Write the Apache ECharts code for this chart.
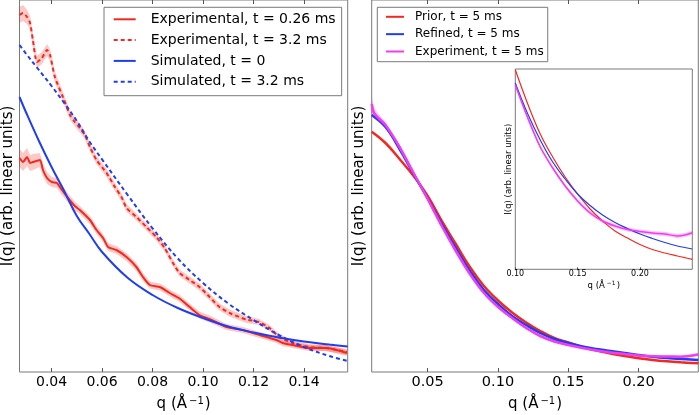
<!DOCTYPE html>
<html><head><meta charset="utf-8">
<script src="https://cdn.jsdelivr.net/npm/echarts@6/dist/echarts.min.js"></script>
<style>html,body{margin:0;padding:0;background:#fff}#c{width:700px;height:415px}</style>
</head><body><div id="c"></div><script>
// ---------- data (y in arbitrary linear units) ----------
const xTicksLeft = [0.04, 0.06, 0.08, 0.10, 0.12, 0.14];
const xTicksRight = [0.05, 0.10, 0.15, 0.20];
const xTicksInset = [0.10, 0.15, 0.20];

const qSimL = [0.0273,0.03,0.035,0.04,0.045,0.05,0.055,0.06,0.07,0.08,0.09,0.10,0.11,0.12,0.13,0.14,0.15,0.1573];
const simT0 = [275,259,231,205,181,156,138,120,94.5,77,64,54,45.5,39.5,34.5,30.5,27.5,25.5];
const sim32 = [327,318,302,286,269,251,230.5,212.6,177.5,143.7,113.6,89,68.5,52,37,25,16,11];

const qExp026 = [0.0273,0.0287,0.0303,0.0315,0.0326,0.0354,0.0366,0.0382,0.0401,0.0421,0.0441,0.0465,0.0492,0.0512,0.0552,0.0578,0.0604,0.0624,0.0657,0.0697,0.0736,0.0762,0.0789,0.0829,0.0868,0.0907,0.0947,0.0986,0.1026,0.1093,0.1157,0.1224,0.1291,0.1315,0.1354,0.1421,0.1488,0.1570];
const exp026 = [214,210,215,209,210,212,202,194,190,189,182,174,166,162,152,142,134,125,122,115,105,95,87,85,79,73.5,65,57,53,45,42,37,32,29,27,24,24,19];
const exp026Err = [9,9,9,8,8,7,6,6,5,5,5,4.5,4.5,4,4,4,4,4,4,4,4,4,3.5,3.5,3.5,3.5,3.5,3.5,3.5,3,3,3,3,3,3,3,3,3];

const qExp32 = [0.0273,0.0287,0.0303,0.0315,0.0326,0.0342,0.0362,0.0382,0.0394,0.0413,0.0445,0.0473,0.0492,0.0512,0.0532,0.0552,0.0578,0.0618,0.0651,0.0677,0.0697,0.0736,0.0776,0.0815,0.0848,0.0881,0.0907,0.0947,0.0986,0.1026,0.1065,0.1105,0.1171,0.1222,0.1263,0.1302,0.1353,0.1420,0.1487,0.1570];
const exp32 = [357,359,355,349,332,310,314,322,317,295,275,257,250,244,237,225,212,199,185,175,164,155,145,135,124,109,99,92,85,75,65,59,52.5,50,44,35,29,25,24,20];
const exp32Err = [8,8,7,7,6,6,6,6,6,5.5,5,4.5,4.5,4.5,4,4,4,4,4,4,4,3.5,3.5,3.5,3.5,3.5,3.5,3.5,3.5,3.5,3.5,3.5,3.5,3,3,3,3,3,3,3];

const qR = [0.0102,0.02,0.03,0.04,0.05,0.06,0.07,0.08,0.09,0.10,0.11,0.12,0.13,0.14,0.15,0.16,0.17,0.18,0.19,0.20,0.21,0.22,0.23,0.2424];
const prior5 = [240.3,229,213,196,176,151,128,105,86,71.5,59.5,49.5,41,34,29.5,25,21.5,18.5,16,13.7,12,10.7,9.7,8.7];
const refined5 = [257,245,223,198,173.5,148,124,101,82,68,56,47,39,33,29,25.5,23,21,19,17,15.3,14,13,12];

const qExpR = [0.0102,0.0115,0.013,0.015,0.02,0.03,0.04,0.05,0.06,0.07,0.08,0.09,0.10,0.11,0.12,0.13,0.14,0.15,0.16,0.17,0.18,0.19,0.20,0.21,0.22,0.23,0.2424];
const expR5 = [268,260,257,254,247,225,199,173,146,121,98,79,65,54,44,36,30.5,27,24,21.5,19.5,18,16.5,15.7,15.5,15.3,17.5];
const expR5Err = [9,6,5,4,3,2,1.5,1.2,1.2,1.2,1.2,1.2,1.2,1.2,1.2,1.2,1.2,1.2,1.2,1.2,1.2,1.2,1.2,1.2,1.2,1.2,1.5];

const qIn = [0.10,0.11,0.12,0.13,0.14,0.15,0.16,0.17,0.18,0.19,0.20,0.21,0.22,0.23,0.236,0.242];
const priorIn = [199.5,165.3,135.3,112.3,92.3,75.3,60.3,48.3,38.3,31.3,24.8,19.8,16.3,13.3,11.6,10];
const refinedIn = [186.3,155.3,129.3,107.3,90.3,75.3,63.8,54.3,46.8,40.8,35.3,30.8,26.8,23.3,21.8,20.3];
const expIn = [184.3,151.3,122.3,101.3,83.3,68.3,56.3,48.3,43.3,39.8,37.8,36.3,35.3,33.3,34.3,36.6];
const expInErr = [2.5,2,2,2,2,2,2,2,2,2,2,2,2,2,2,2];

// ---------- styling ----------
const FONT = 'DejaVu Sans';
const RED = '#f5281e', BLUE = '#1f3ef2', MAG = '#f23cf2';
const EDGE = '#7a7a7a';
const yName = 'I(q) (arb. linear units)';
const xName = 'q (Å{sup|−1})';

function pairs(xs, ys) { return xs.map((x, i) => [x, ys[i]]); }
function band(name, xs, ys, es, xi, yi, color) {
  return {
    name: name, type: 'custom', xAxisIndex: xi, yAxisIndex: yi, silent: true,
    data: xs.map((x, i) => [x, ys[i] - es[i], ys[i] + es[i]]),
    encode: { x: 0, y: [1, 2] },
    renderItem: function (params, api) {
      if (params.dataIndex !== 0) return null;
      const up = [], lo = [];
      for (let i = 0; i < xs.length; i++) {
        up.push(api.coord([xs[i], ys[i] + es[i]]));
        lo.push(api.coord([xs[i], ys[i] - es[i]]));
      }
      return { type: 'polygon', shape: { points: up.concat(lo.reverse()) }, style: { fill: color } };
    }
  };
}
function line(name, xs, ys, xi, yi, color, width, dashed, smooth) {
  return {
    name: name, type: 'line', xAxisIndex: xi, yAxisIndex: yi, data: pairs(xs, ys),
    symbol: 'none', showSymbol: false, smooth: smooth, silent: true,
    lineStyle: { color: color, width: width, type: dashed ? [4, 3] : 'solid' },
    itemStyle: { color: color }
  };
}
function xAxisDef(grid, min, max, ticks, fs, margin, nameFs, nameGap, supFs, supRaise, tickLen) {
  return {
    gridIndex: grid, type: 'value', min: min, max: max, position: 'bottom',
    axisLine: { show: false }, splitLine: { show: false },
    axisTick: { show: true, inside: true, length: tickLen, customValues: ticks, lineStyle: { color: '#555', width: 1 } },
    axisLabel: { show: true, customValues: ticks, formatter: v => v.toFixed(2), color: '#000', fontFamily: FONT, fontSize: fs, margin: margin },
    name: xName, nameLocation: 'middle', nameGap: nameGap,
    nameTextStyle: { color: '#000', fontFamily: FONT, fontSize: nameFs, verticalAlign: 'middle',
      rich: { sup: { color: '#000', fontFamily: FONT, fontSize: supFs, lineHeight: supFs, verticalAlign: 'top', padding: [0, 1, supRaise, 2] } } }
  };
}
function topAxisDef(grid, min, max, ticks, tickLen) {
  return {
    gridIndex: grid, type: 'value', min: min, max: max, position: 'top',
    axisLine: { show: false }, splitLine: { show: false }, axisLabel: { show: false },
    axisTick: { show: true, inside: true, length: tickLen, customValues: ticks, lineStyle: { color: '#555', width: 1 } }
  };
}
function yAxisDef(grid, max, nameFs, nameGap) {
  return {
    gridIndex: grid, type: 'value', min: 0, max: max,
    axisLine: { show: false }, axisTick: { show: false }, axisLabel: { show: false }, splitLine: { show: false },
    name: yName, nameLocation: 'middle', nameRotate: 90, nameGap: nameGap,
    nameTextStyle: { color: '#000', fontFamily: FONT, fontSize: nameFs }
  };
}

const chart = echarts.init(document.getElementById('c'), null, { renderer: 'canvas' });
chart.setOption({
  animation: false,
  backgroundColor: '#fff',
  grid: [
    { left: 19.5, top: 0, width: 328.2, height: 372, show: true, borderColor: EDGE, borderWidth: 1, backgroundColor: 'transparent', outerBoundsMode: 'none', containLabel: false },
    { left: 371.7, top: 0, width: 326.6, height: 372, show: true, borderColor: EDGE, borderWidth: 1, backgroundColor: 'transparent', outerBoundsMode: 'none', containLabel: false },
    { left: 515.3, top: 69, width: 177, height: 200.3, show: true, borderColor: EDGE, borderWidth: 1, backgroundColor: '#fff', outerBoundsMode: 'none', containLabel: false }
  ],
  xAxis: [
    xAxisDef(0, 0.0273, 0.1573, xTicksLeft, 14, 3, 15, 32, 10, 16, 4),
    topAxisDef(0, 0.0273, 0.1573, xTicksLeft, 4),
    xAxisDef(1, 0.0102, 0.2424, xTicksRight, 14.5, 3, 15, 32, 10, 16, 4),
    topAxisDef(1, 0.0102, 0.2424, xTicksRight, 4),
    xAxisDef(2, 0.10, 0.242, xTicksInset, 8, 1, 8.5, 16, 6, 8, 2)
  ],
  yAxis: [
    yAxisDef(0, 372, 15, 4),
    yAxisDef(1, 372, 15, 5),
    yAxisDef(2, 200.3, 8.5, 2)
  ],
  legend: [
    {
      data: ['Experimental, t = 0.26 ms', 'Experimental, t = 3.2 ms', 'Simulated, t = 0', 'Simulated, t = 3.2 ms'],
      orient: 'vertical', left: 104, top: 7.3, itemWidth: 22, itemHeight: 14, itemGap: 6.8,
      padding: [5, 6, 7, 8.7], borderColor: EDGE, borderWidth: 1, backgroundColor: '#fff', borderRadius: 0,
      selectedMode: false, itemStyle: { opacity: 0 },
      textStyle: { fontFamily: FONT, fontSize: 14, color: '#000', padding: [0, 0, 0, 10] }
    },
    {
      data: ['Prior, t = 5 ms', 'Refined, t = 5 ms', 'Experiment, t = 5 ms'],
      orient: 'vertical', left: 377.3, top: 7.3, itemWidth: 18, itemHeight: 12, itemGap: 5.35,
      padding: [3.5, 4, 4.2, 7.7], borderColor: EDGE, borderWidth: 1, backgroundColor: '#fff', borderRadius: 0,
      selectedMode: false, itemStyle: { opacity: 0 },
      textStyle: { fontFamily: FONT, fontSize: 12, color: '#000', padding: [0, 0, 0, 6] }
    }
  ],
  series: [
    band('band026', qExp026, exp026, exp026Err, 0, 0, 'rgba(245,40,30,0.25)'),
    band('band32', qExp32, exp32, exp32Err, 0, 0, 'rgba(245,40,30,0.25)'),
    line('Experimental, t = 0.26 ms', qExp026, exp026, 0, 0, RED, 2, false, 0.2),
    line('Experimental, t = 3.2 ms', qExp32, exp32, 0, 0, RED, 2, true, 0.2),
    line('Simulated, t = 0', qSimL, simT0, 0, 0, BLUE, 2, false, 0.4),
    line('Simulated, t = 3.2 ms', qSimL, sim32, 0, 0, BLUE, 2, true, 0.4),

    line('Prior, t = 5 ms', qR, prior5, 2, 1, RED, 2.5, false, 0.4),
    line('Refined, t = 5 ms', qR, refined5, 2, 1, BLUE, 2.5, false, 0.4),
    band('bandExpR', qExpR, expR5, expR5Err, 2, 1, 'rgba(242,60,242,0.3)'),
    line('Experiment, t = 5 ms', qExpR, expR5, 2, 1, MAG, 2.5, false, 0.3),

    line('Prior inset', qIn, priorIn, 4, 2, RED, 1.2, false, 0.4),
    line('Refined inset', qIn, refinedIn, 4, 2, BLUE, 1.2, false, 0.4),
    band('bandExpIn', qIn, expIn, expInErr, 4, 2, 'rgba(242,60,242,0.3)'),
    line('Experiment inset', qIn, expIn, 4, 2, MAG, 1.5, false, 0.3)
  ]
});
</script></body></html>
